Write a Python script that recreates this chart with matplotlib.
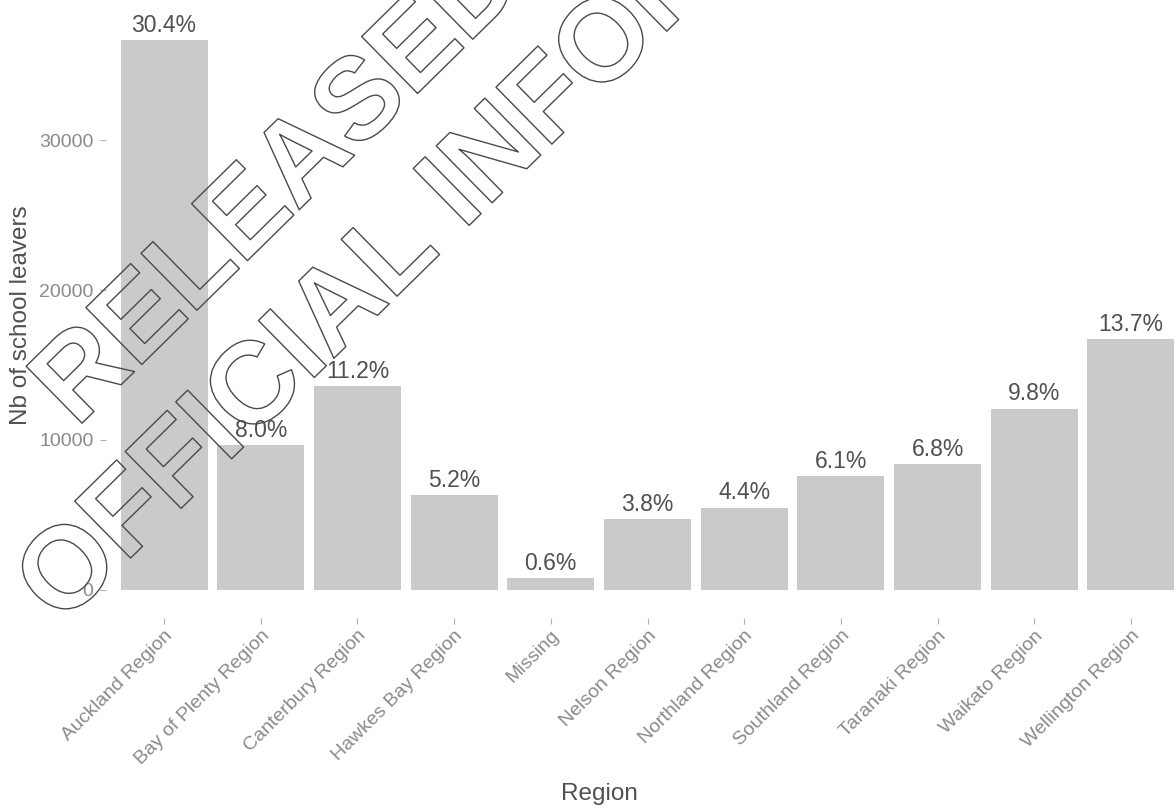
import matplotlib

matplotlib.use("Agg")
import matplotlib.patheffects as pe
import matplotlib.pyplot as plt
from matplotlib.transforms import ScaledTranslation

regions = [
    "Auckland Region",
    "Bay of Plenty Region",
    "Canterbury Region",
    "Hawkes Bay Region",
    "Missing",
    "Nelson Region",
    "Northland Region",
    "Southland Region",
    "Taranaki Region",
    "Waikato Region",
    "Wellington Region",
]
leavers = [36650, 9650, 13600, 6330, 800, 4730, 5470, 7600, 8400, 12070, 16730]
share_labels = ["30.4%", "8.0%", "11.2%", "5.2%", "0.6%", "3.8%", "4.4%", "6.1%", "6.8%", "9.8%", "13.7%"]
yticks = [0, 10000, 20000, 30000]

plt.rcParams["font.family"] = ["Liberation Sans", "DejaVu Sans"]

W, H = 1176, 808
fig = plt.figure(figsize=(W / 100, H / 100), dpi=100)
ax = fig.add_axes([106 / W, 1 - 617.5 / H, 1083 / W, 605.5 / H])

x = list(range(len(regions)))
ax.bar(x, leavers, width=0.9, color="#cacaca", zorder=2)
for xi, v, lab in zip(x, leavers, share_labels):
    ax.annotate(
        lab,
        (xi, v),
        xytext=(0, 2.5),
        textcoords="offset points",
        ha="center",
        va="bottom",
        fontsize=16.5,
        color="#505050",
    )

ax.set_xlim(-0.6, 10.6)
ax.set_ylim(-1835, 38535)
ax.set_yticks(yticks)
ax.set_xticks(x)
ax.set_xticklabels(regions, rotation=45, ha="right", va="top", rotation_mode="anchor")
# labels sit a little right of the tick in the original
shift = ScaledTranslation(12 / 100, -4 / 100, fig.dpi_scale_trans)
for lbl in ax.get_xticklabels():
    lbl.set_transform(lbl.get_transform() + shift)

for s in ax.spines.values():
    s.set_visible(False)
ax.tick_params(length=4, width=0.8, color="#b0b0b0", labelcolor="#8a8a8a", labelsize=14, pad=3)
ax.tick_params(axis="y", pad=5)

ax.set_ylabel("Nb of school leavers", fontsize=17.5, color="#505050", labelpad=5)
ax.set_xlabel("Region", fontsize=17.5, color="#505050")
ax.xaxis.set_label_coords(0.456, -0.3014)
ax.xaxis.label.set_va("baseline")

# scanned watermark, outline only
fig.text(
    0.4923,
    1.0205,
    "RELEASED UNDER THE\nOFFICIAL INFORMATION ACT",
    rotation=44.5,
    rotation_mode="anchor",
    ha="center",
    va="center",
    multialignment="center",
    fontsize=83.5,
    fontweight="bold",
    color="none",
    linespacing=1.25,
    path_effects=[pe.withStroke(linewidth=1.0, foreground="#4a4a4a")],
)

fig.savefig("out.png", dpi=100)
